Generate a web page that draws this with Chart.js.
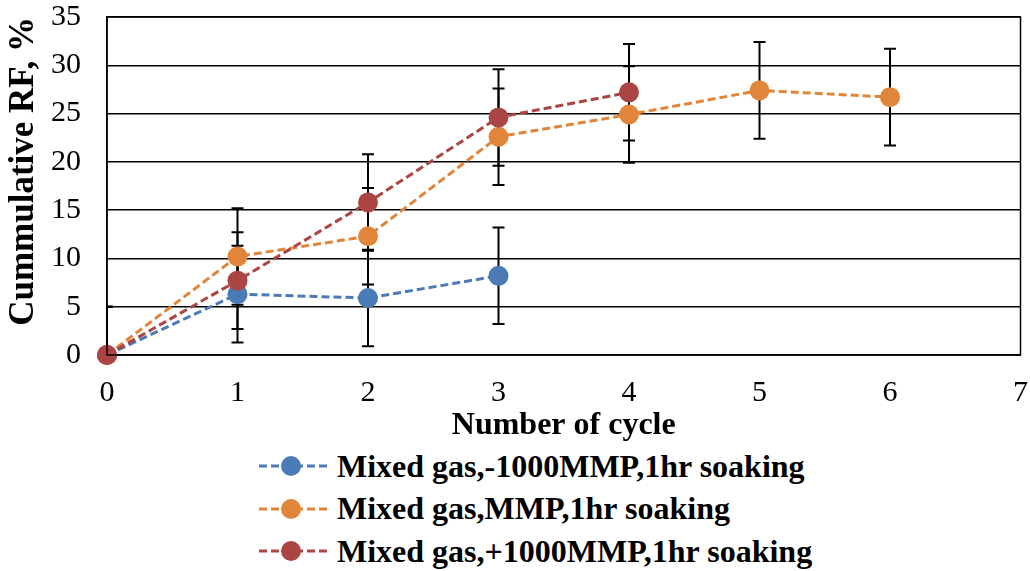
<!DOCTYPE html>
<html>
<head>
<meta charset="utf-8">
<script src="https://cdn.jsdelivr.net/npm/chart.js@4.4.1/dist/chart.umd.min.js"></script>
<style>
    body { margin: 0; background: #fff; }
    #wrap { position: relative; width: 1030px; height: 442px; }
    #legend { position: absolute; left: 258px; top: 445px; font-family: "Liberation Serif", serif; font-weight: bold; font-size: 32px; color: #000; }
    .item { height: 42.5px; display: flex; align-items: center; white-space: nowrap; }
    .item svg { margin-right: 7px; }
</style>
</head>
<body>
<div id="wrap"><canvas id="chart" width="1030" height="442"></canvas></div>
<div id="legend"></div>
<script>
// Данные графика
const cycles = [0, 1, 2, 3, 4, 5, 6];
const seriesNames = [
    'Mixed gas,-1000MMP,1hr soaking',
    'Mixed gas,MMP,1hr soaking',
    'Mixed gas,+1000MMP,1hr soaking'
];
const minusMMP = [0, 6.3, 5.9, 8.2];
const atMMP = [0, 10.2, 12.3, 22.6, 24.9, 27.4, 26.7];
const plusMMP = [0, 7.7, 15.8, 24.6, 27.2];
// Погрешность (фиксированная)
const minusErr = [5, 5, 5, 5];
const atErr = [5, 5, 5, 5, 5, 5, 5];
const plusErr = [5, 5, 5, 5, 5];

const colors = ['#4a7bb7', '#e0853a', '#ab4543'];
const FONT = '"Liberation Serif", "Times New Roman", serif';
const HIDDEN = 'rgba(0,0,0,0)';

function toPoints(values) {
    return values.map((v, i) => ({ x: cycles[i], y: v }));
}

// Плагин: планки погрешностей и рамка
const errorBars = {
    id: 'errorBars',
    beforeDatasetsDraw(chart) {
        const ctx = chart.ctx;
        const xs = chart.scales.x, ys = chart.scales.y;
        const area = chart.chartArea;
        ctx.save();
        ctx.beginPath();
        ctx.rect(area.left, area.top - 1, area.right - area.left, area.bottom - area.top + 1);
        ctx.clip();
        ctx.strokeStyle = '#000';
        ctx.lineWidth = 2;
        chart.data.datasets.forEach(ds => {
            ds.data.forEach((p, i) => {
                const e = ds.errors[i];
                const px = xs.getPixelForValue(p.x);
                const top = ys.getPixelForValue(p.y + e);
                const bot = ys.getPixelForValue(p.y - e);
                ctx.beginPath();
                ctx.moveTo(px, top); ctx.lineTo(px, bot);
                ctx.moveTo(px - 6, top); ctx.lineTo(px + 6, top);
                ctx.moveTo(px - 6, bot); ctx.lineTo(px + 6, bot);
                ctx.stroke();
            });
        });
        ctx.restore();
    },
    afterDraw(chart) {
        const ctx = chart.ctx, a = chart.chartArea;
        ctx.save();
        ctx.strokeStyle = '#000';
        ctx.lineWidth = 1.5;
        ctx.strokeRect(a.left, a.top, a.right - a.left, a.bottom - a.top);
        ctx.restore();
    }
};

function drawChart() {
    const datasets = [minusMMP, atMMP, plusMMP].map((vals, k) => ({
        label: seriesNames[k],
        data: toPoints(vals),
        errors: [minusErr, atErr, plusErr][k],
        borderColor: colors[k],
        backgroundColor: colors[k],
        borderWidth: 3,
        borderDash: [8, 4],
        pointRadius: 10,
        pointHoverRadius: 10,
        pointBorderWidth: 0,
        showLine: true,
        clip: false,
        order: 3 - k
    }));

    new Chart(document.getElementById('chart'), {
        type: 'scatter',
        data: { datasets },
        plugins: [errorBars],
        options: {
            responsive: false,
            animation: false,
            layout: { autoPadding: false, padding: { right: 0, top: 1, left: 6, bottom: 0 } },
            plugins: {
                legend: { display: false },
                tooltip: { enabled: false }
            },
            scales: {
                x: {
                    type: 'linear',
                    min: 0, max: 7,
                    ticks: { stepSize: 1, color: '#000', font: { family: FONT, size: 30, lineHeight: 1 }, padding: 2 },
                    grid: { drawOnChartArea: false, drawTicks: true, tickLength: 21, tickColor: HIDDEN },
                    border: { color: '#000', width: 1.5 },
                    title: { display: true, text: 'Number of cycle', color: '#000', font: { family: FONT, size: 32, weight: 'bold', lineHeight: 1 }, padding: 0 }
                },
                y: {
                    min: 0, max: 35,
                    ticks: { stepSize: 5, color: '#000', font: { family: FONT, size: 30, lineHeight: 1 }, padding: 2 },
                    grid: { color: '#000', lineWidth: 1.5, drawTicks: true, tickLength: 24, tickColor: HIDDEN },
                    border: { color: '#000', width: 1.5 },
                    title: { display: true, align: 'end', text: 'Cummulative RF, %', color: '#000', font: { family: FONT, size: 35, weight: 'bold', lineHeight: 1 }, padding: { top: 0, bottom: 8 } }
                }
            }
        }
    });
}

// Легенда
const legend = document.getElementById('legend');
seriesNames.forEach((name, k) => {
    const item = document.createElement('div');
    item.className = 'item';
    item.innerHTML = `<svg width="72" height="24"><line x1="1" y1="12" x2="71" y2="12" stroke="${colors[k]}" stroke-width="3" stroke-dasharray="8,4"/><circle cx="33" cy="12" r="10" fill="${colors[k]}"/></svg>${name}`;
    legend.appendChild(item);
});

Promise.all([
    document.fonts.load('30px "Liberation Serif"'),
    document.fonts.load('bold 32px "Liberation Serif"')
]).then(drawChart, drawChart);
</script>
</body>
</html>
